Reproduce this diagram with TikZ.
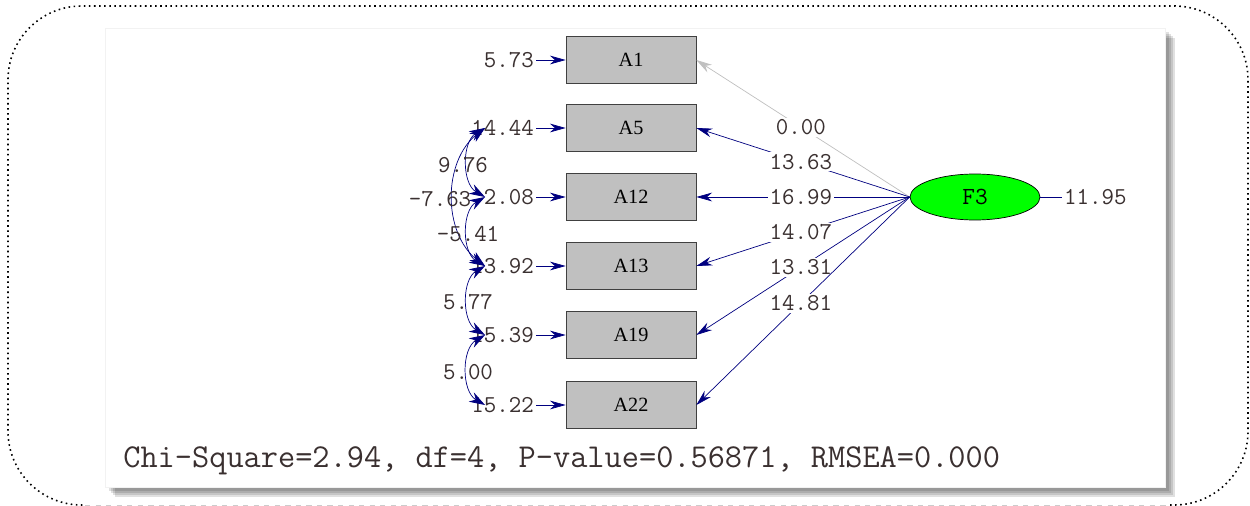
\documentclass[tikz,border=0pt]{standalone}
\usepackage{fontspec}
\setmainfont{Liberation Serif}
\usetikzlibrary{arrows.meta,shapes.geometric}
\definecolor{lnavy}{HTML}{000080}
\definecolor{boxgray}{HTML}{C0C0C0}
\definecolor{numcol}{HTML}{3A3030}

\begin{document}
\begin{tikzpicture}[x=0.02cm,y=-0.02cm,
        obs/.style={draw=black!75,fill=boxgray,minimum width=2.6cm,minimum height=0.94cm,inner sep=0pt,font=\fontsize{11.5}{11}\selectfont},
        num/.style={text=numcol,font=\ttfamily\fontsize{13.8}{13}\selectfont,inner sep=1pt},
        lab/.style={num,fill=white,pos=0.51},
        load/.style={lnavy,-{Stealth[length=9pt,width=5pt]}},
        cov/.style={lnavy,{Stealth[length=9pt,width=6pt]}-{Stealth[length=9pt,width=6pt]}}
    ]
    \useasboundingbox (0,0) rectangle (1250,506);
    % frame and panel
    \draw[line width=0.9pt,dotted,rounded corners=42pt] (1170,505) -- (1248,505) -- (1248,6) -- (8,6) -- (8,505) -- (85,505);
    \draw[black!20,dashed] (85,505) -- (1170,505);
    \foreach \d in {10,8,6,4}
        \fill[black,opacity=0.12] (105+\d,28+\d) rectangle (1165+\d,487+\d);
    \fill[white] (105,28) rectangle (1165,487);
    \draw[black!5] (105,28) rectangle (1165,487);

    % observed variables and error terms
    \foreach \n/\y/\v in {1/60/5.73,5/128/14.44,12/197/2.08,13/266/13.92,19/335/15.39,22/405/15.22} {
        \node[obs] (A\n) at (631,\y) {A\n};
        \node[num,anchor=east] (e\n) at (536,\y) {\v};
        \draw[load] (e\n) -- (A\n);
        \coordinate (c\n) at (485,\y);
    }

    % latent factor
    \node[ellipse,draw,fill=green,minimum width=2.6cm,minimum height=0.92cm,inner sep=0pt,
        font=\ttfamily\fontsize{14}{14}\selectfont] (F3) at (975,197) {F3};
    \node[num,anchor=west] (eF3) at (1062,197) {11.95};
    \draw[lnavy] (F3) -- (eF3);

    % loadings
    \draw[load,boxgray] (F3.west) -- node[lab] {0.00} (A1.east);
    \foreach \n/\v in {5/13.63,12/16.99,13/14.07,19/13.31,22/14.81}
        \draw[load] (F3.west) -- node[lab] {\v} (A\n.east);

    % error covariances
    \draw[cov] (c5) to[bend right=52] (c13);
    \draw[cov] (c5) to[bend right=60] (c12);
    \draw[cov] (c12) to[bend right=60] (c13);
    \draw[cov] (c13) to[bend right=60] (c19);
    \draw[cov] (c19) to[bend right=60] (c22);
    \node[num] (r1) at (463,165) {9.76};
    \node[num] (r2) at (440,199) {-7.63};
    \node[num] (r3) at (468,234) {-5.41};
    \node[num] (r4) at (468,302) {5.77};
    \node[num] (r5) at (468,372) {5.00};

    \node[text=numcol,font=\ttfamily\fontsize{19}{19}\selectfont,anchor=west,inner sep=0pt] (fit) at (123,461)
        {Chi-Square=2.94, df=4, P-value=0.56871, RMSEA=0.000};
\end{tikzpicture}
\end{document}
